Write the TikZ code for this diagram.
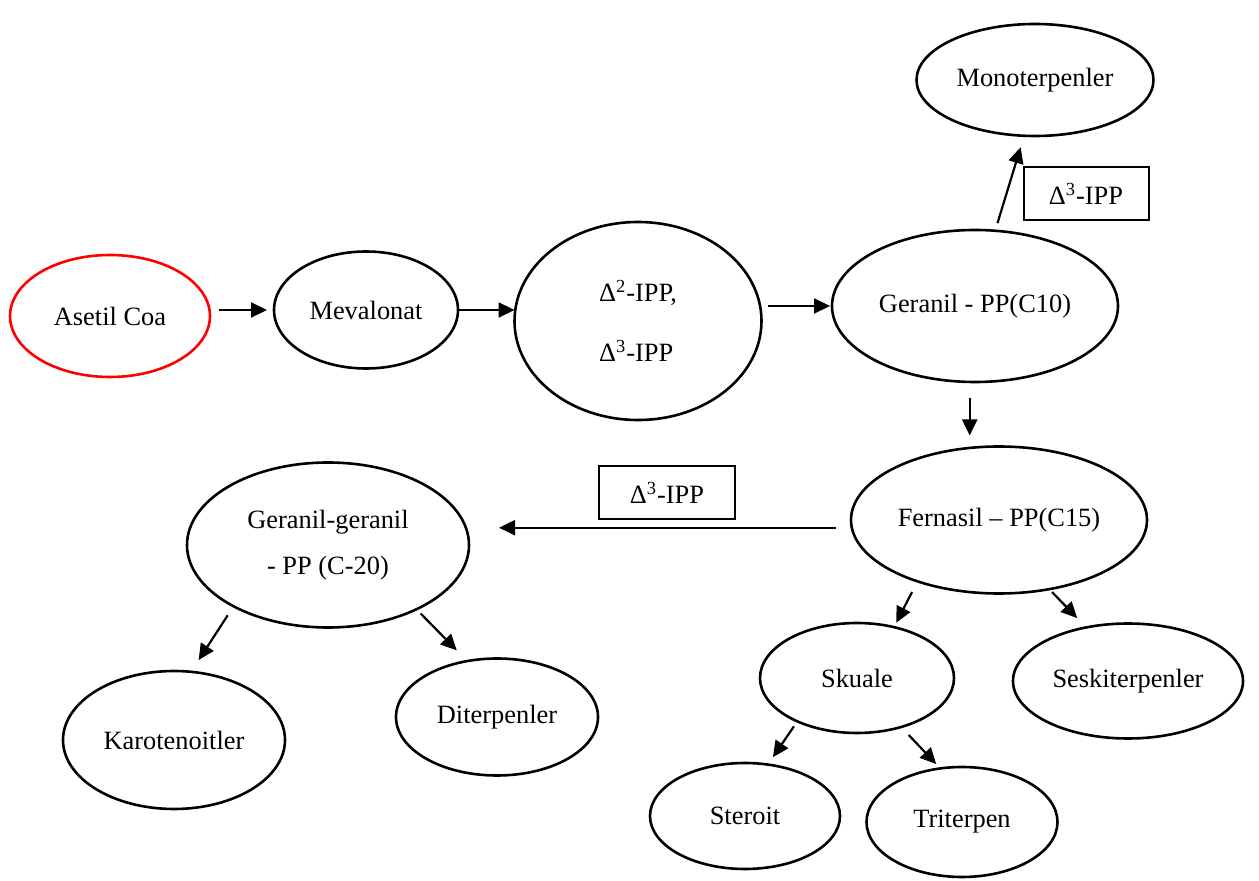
\documentclass[tikz,border=0pt]{standalone}
\usepackage{fontspec}
\setmainfont{Liberation Serif}
\usetikzlibrary{arrows.meta,shapes.geometric}

\begin{document}
\begin{tikzpicture}[x=0.5pt,y=-0.5pt]
      \tikzstyle{blob}=[ellipse,draw=black,line width=1.3pt,inner sep=0pt,outer sep=0pt,font=\fontsize{13.2}{16}\selectfont]
      \tikzstyle{tag}=[rectangle,draw=black,line width=1pt,inner sep=0pt,outer sep=0pt,font=\fontsize{13.2}{16}\selectfont]
      \tikzstyle{arr}=[-{Triangle[length=8pt,width=7.5pt]},line width=1.1pt]

      \useasboundingbox (0,0) rectangle (1259,881);

      % main chain
      \node[blob,draw=red,minimum width=100pt,minimum height=61pt](asetil) at (110,316){Asetil Coa};
      \node[blob,minimum width=92pt,minimum height=58.5pt](meval) at (366,310){Mevalonat};
      \node[blob,minimum width=123.5pt,minimum height=99pt,align=left](ipp) at (638,321)
        {Δ\textsuperscript{2}-IPP,\\[14pt]Δ\textsuperscript{3}-IPP};
      \node[blob,minimum width=143pt,minimum height=76pt](geranil) at (975,306){Geranil - PP(C10)};
      \node[blob,minimum width=118.5pt,minimum height=56pt](mono) at (1035,80){Monoterpenler};
      \node[tag,minimum width=62.5pt,minimum height=26.5pt](lab1) at (1086,194){Δ\textsuperscript{3}-IPP};

      \node[blob,minimum width=148pt,minimum height=73.5pt](fern) at (999,520){Fernasil – PP(C15)};
      \node[tag,minimum width=68pt,minimum height=26.5pt](lab2) at (667,493){Δ\textsuperscript{3}-IPP};
      \node[blob,minimum width=141pt,minimum height=82.5pt,align=center](gg) at (328,545)
        {Geranil-geranil\\[7pt]- PP (C-20)};

      % branches
      \node[blob,minimum width=111pt,minimum height=69pt](karo) at (174,740){Karotenoitler};
      \node[blob,minimum width=101pt,minimum height=58.5pt](diter) at (497,717){Diterpenler};
      \node[blob,minimum width=97pt,minimum height=55pt](skuale) at (857,678){Skuale};
      \node[blob,minimum width=115pt,minimum height=57.5pt](sesk) at (1128,681){Seskiterpenler};
      \node[blob,minimum width=95pt,minimum height=53pt](steroit) at (745,816){Steroit};
      \node[blob,minimum width=95.5pt,minimum height=55pt](triterp) at (962,822){Triterpen};

      \path[arr]
      (meval.west -| asetil.east) edge[shorten <=4.5pt,shorten >=3.5pt] (meval.west)
      (meval.east) edge (meval.east -| ipp.west)
      (geranil.west -| ipp.east) edge[shorten <=3pt,shorten >=1pt] (geranil.west)
      (geranil.75) edge[shorten <=4pt,shorten >=6pt] (mono.259)
      (geranil.266) edge[shorten <=8pt,shorten >=5.5pt] (fern.north -| geranil.266)
      (fern.183) edge[shorten <=8pt,shorten >=15pt] (fern.183 -| gg.east)
      (fern.217) edge[shorten <=6pt,shorten >=2.5pt] (skuale.54)
      (fern.306) edge[shorten <=2pt,shorten >=6.5pt] (sesk.128)
      (skuale.216) edge[shorten <=3pt,shorten >=4.5pt] (steroit.66)
      (skuale.312) edge[shorten <=5.5pt,shorten >=3pt] (triterp.112)
      (gg.213) edge[shorten <=5.4pt,shorten >=7pt] (karo.76)
      (gg.324) edge[shorten <=3pt,shorten >=7.5pt] (diter.118);
\end{tikzpicture}
\end{document}
